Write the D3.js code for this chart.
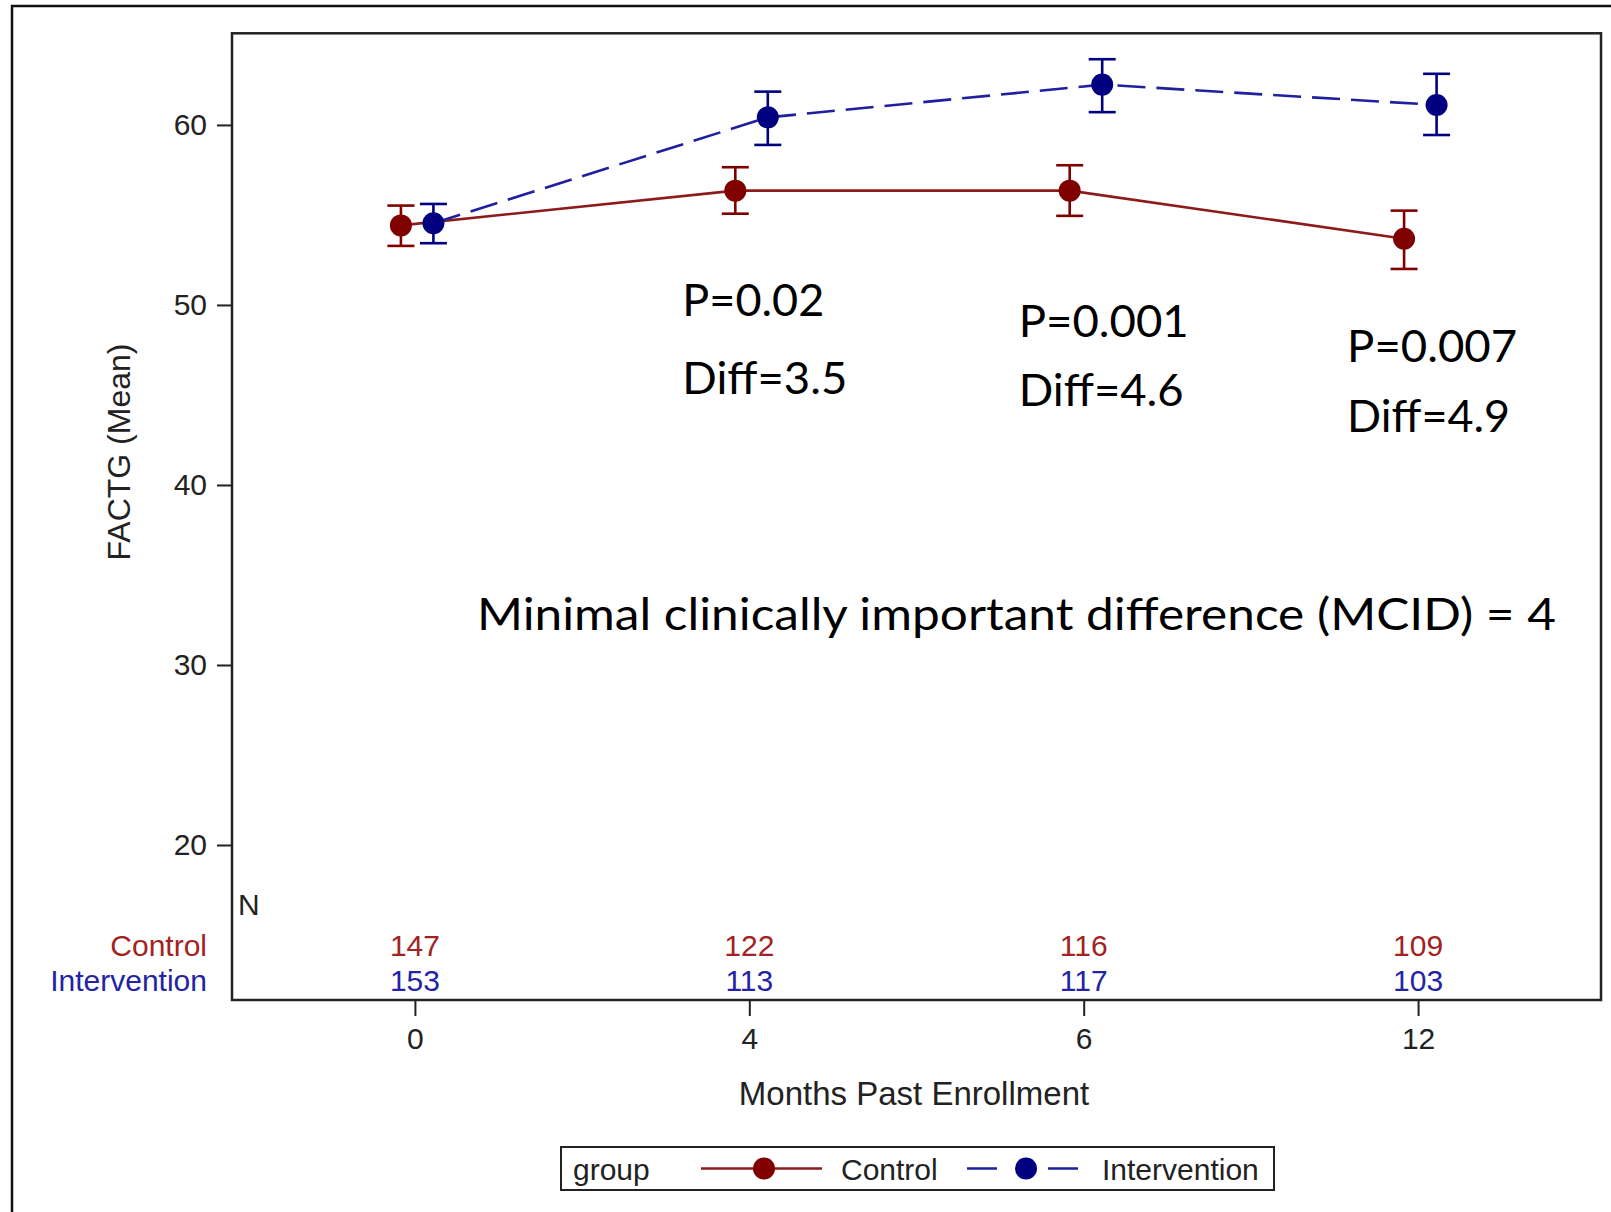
<!DOCTYPE html>
<html>
<head>
<meta charset="utf-8">
<script src="https://cdn.jsdelivr.net/npm/d3@7"></script>
<style>
  body { margin: 0; background: #fff; }
  svg { display: block; }
  .sas { font-family: "Liberation Sans", Arial, sans-serif; }
  .note { font-family: Lato, "Open Sans", sans-serif; fill: #000; }
</style>
</head>
<body>
<div id="chart"></div>
<script>
// values
var months = ["0", "4", "6", "12"];

var controlMean  = [54.42, 56.35, 56.35, 53.68];
var controlLow   = [53.28, 55.07, 54.95, 52.00];
var controlHigh  = [55.52, 57.65, 57.76, 55.24];

var interMean = [54.54, 60.42, 62.24, 61.11];
var interLow  = [53.43, 58.89, 60.71, 59.44];
var interHigh = [55.61, 61.85, 63.65, 62.84];

var controlN = [147, 122, 116, 109];
var interN   = [153, 113, 117, 103];

var yTicks = [20, 30, 40, 50, 60];

var noteMonths  = ["4", "6", "12"];
var pLabels     = ["P=0.02", "P=0.001", "P=0.007"];
var diffLabels  = ["Diff=3.5", "Diff=4.6", "Diff=4.9"];
var mcidLabel   = "Minimal clinically important difference (MCID) = 4";

// annotation placement (offset from tick in px, baseline in data units, width)
var noteLayout = [
  { dx: -67, pY: 49.38, dY: 45.05, pW: 142, dW: 165 },
  { dx: -65, pY: 48.24, dY: 44.40, pW: 170, dW: 165 },
  { dx: -71, pY: 46.85, dY: 42.96, pW: 170, dW: 163 }
];

var width = 1611, height = 1212;
var plotLeft = 232, plotRight = 1601, plotTop = 33.3, plotBottom = 1000;

var red = "#800000", redLine = "#8e1b1b", redText = "#a32222";
var blue = "#000080", blueLine = "#1f1fa0", blueText = "#2323a8";

var svg = d3.select("#chart").append("svg")
    .attr("width", width)
    .attr("height", height);

var x = d3.scalePoint()
    .domain(months)
    .range([plotLeft, plotRight])
    .padding(0.547);

var y = d3.scaleLinear()
    .domain([11.39, 65.09])
    .range([plotBottom, plotTop]);

// outer frame
svg.append("rect")
    .attr("x", 12).attr("y", 6)
    .attr("width", 1700).attr("height", 1300)
    .attr("fill", "none")
    .attr("stroke", "#111")
    .attr("stroke-width", 2.5);

// y axis
var yAxis = svg.append("g")
    .attr("transform", "translate(" + plotLeft + ",0)")
    .call(d3.axisLeft(y).tickValues(yTicks).tickSize(15).tickPadding(10));
yAxis.select(".domain").remove();
yAxis.selectAll("line").attr("stroke", "#222").attr("stroke-width", 2);
yAxis.selectAll("text")
    .attr("font-size", 30)
    .attr("font-family", "Liberation Sans, Arial, sans-serif")
    .attr("fill", "#222");

// x axis
var xAxis = svg.append("g")
    .attr("transform", "translate(0," + plotBottom + ")")
    .call(d3.axisBottom(x).tickSize(16));
xAxis.select(".domain").remove();
xAxis.selectAll("line").attr("stroke", "#222").attr("stroke-width", 2);
xAxis.selectAll("text")
    .attr("dy", null)
    .attr("y", 49)
    .attr("font-size", 30)
    .attr("font-family", "Liberation Sans, Arial, sans-serif")
    .attr("fill", "#222");

// plot frame
svg.append("rect")
    .attr("x", plotLeft).attr("y", plotTop)
    .attr("width", plotRight - plotLeft).attr("height", plotBottom - plotTop)
    .attr("fill", "none")
    .attr("stroke", "#222")
    .attr("stroke-width", 2.5);

// axis titles
svg.append("text")
    .attr("class", "sas")
    .attr("transform", "translate(130,452) rotate(-90)")
    .attr("text-anchor", "middle")
    .attr("font-size", 32)
    .attr("fill", "#222")
    .text("FACTG (Mean)");

svg.append("text")
    .attr("class", "sas")
    .attr("x", 914).attr("y", 1105)
    .attr("text-anchor", "middle")
    .attr("font-size", 33)
    .attr("fill", "#222")
    .text("Months Past Enrollment");

// series
var series = [
  { name: "Control", mean: controlMean, low: controlLow, high: controlHigh,
    off: -14, fill: red, line: redLine, dash: null },
  { name: "Intervention", mean: interMean, low: interLow, high: interHigh,
    off: 18.5, fill: blue, line: blueLine, dash: "28,11" }
];

var line = d3.line()
    .x(function(d) { return d.x; })
    .y(function(d) { return y(d.v); });

series.forEach(function(s) {
  var pts = months.map(function(m, i) {
    return { x: x(m) + s.off, v: s.mean[i], lo: s.low[i], hi: s.high[i] };
  });

  var g = svg.append("g");

  g.append("path")
      .datum(pts)
      .attr("d", line)
      .attr("fill", "none")
      .attr("stroke", s.line)
      .attr("stroke-width", 2.6)
      .attr("stroke-dasharray", s.dash);

  var eb = g.selectAll(".eb").data(pts).enter().append("g");
  eb.append("line")
      .attr("x1", function(d) { return d.x; })
      .attr("x2", function(d) { return d.x; })
      .attr("y1", function(d) { return y(d.lo); })
      .attr("y2", function(d) { return y(d.hi); });
  eb.append("line")
      .attr("x1", function(d) { return d.x - 13.5; })
      .attr("x2", function(d) { return d.x + 13.5; })
      .attr("y1", function(d) { return y(d.lo); })
      .attr("y2", function(d) { return y(d.lo); });
  eb.append("line")
      .attr("x1", function(d) { return d.x - 13.5; })
      .attr("x2", function(d) { return d.x + 13.5; })
      .attr("y1", function(d) { return y(d.hi); })
      .attr("y2", function(d) { return y(d.hi); });
  eb.selectAll("line")
      .attr("stroke", s.fill)
      .attr("stroke-width", 2.6);

  g.selectAll("circle").data(pts).enter().append("circle")
      .attr("cx", function(d) { return d.x; })
      .attr("cy", function(d) { return y(d.v); })
      .attr("r", 11)
      .attr("fill", s.fill);
});

// N table
svg.append("text")
    .attr("class", "sas")
    .attr("x", 238).attr("y", 915)
    .attr("font-size", 30)
    .attr("fill", "#222")
    .text("N");

var rows = [
  { label: "Control", n: controlN, color: redText, base: 956 },
  { label: "Intervention", n: interN, color: blueText, base: 991 }
];

rows.forEach(function(r) {
  svg.append("text")
      .attr("class", "sas")
      .attr("x", 207).attr("y", r.base)
      .attr("text-anchor", "end")
      .attr("font-size", 30)
      .attr("fill", r.color)
      .text(r.label);

  svg.selectAll(null).data(r.n).enter().append("text")
      .attr("class", "sas")
      .attr("x", function(d, i) { return x(months[i]); })
      .attr("y", r.base)
      .attr("text-anchor", "middle")
      .attr("font-size", 30)
      .attr("fill", r.color)
      .text(function(d) { return d; });
});

// annotations
noteMonths.forEach(function(m, i) {
  var L = noteLayout[i];
  svg.append("text")
      .attr("class", "note")
      .attr("x", x(m) + L.dx).attr("y", y(L.pY))
      .attr("font-size", 44)
      .attr("textLength", L.pW)
      .attr("lengthAdjust", "spacingAndGlyphs")
      .text(pLabels[i]);
  svg.append("text")
      .attr("class", "note")
      .attr("x", x(m) + L.dx).attr("y", y(L.dY))
      .attr("font-size", 44)
      .attr("textLength", L.dW)
      .attr("lengthAdjust", "spacingAndGlyphs")
      .text(diffLabels[i]);
});

svg.append("text")
    .attr("class", "note")
    .attr("x", 477).attr("y", 630)
    .attr("font-size", 44)
    .attr("textLength", 1079)
    .attr("lengthAdjust", "spacingAndGlyphs")
    .text(mcidLabel);

// legend
var leg = svg.append("g").attr("class", "sas");
leg.append("rect")
    .attr("x", 561).attr("y", 1147)
    .attr("width", 713).attr("height", 43)
    .attr("fill", "none")
    .attr("stroke", "#222")
    .attr("stroke-width", 2);
leg.append("text")
    .attr("x", 573).attr("y", 1180)
    .attr("font-size", 30).attr("fill", "#222")
    .text("group");

var legItems = [
  { s: series[0], x1: 701, x2: 822, cx: 764, tx: 841, dash: null },
  { s: series[1], x1: 967, x2: 1078, cx: 1026, tx: 1102, dash: "30,51" }
];
legItems.forEach(function(it) {
  leg.append("line")
      .attr("x1", it.x1).attr("x2", it.x2)
      .attr("y1", 1168.5).attr("y2", 1168.5)
      .attr("stroke", it.s.line)
      .attr("stroke-width", 2.6)
      .attr("stroke-dasharray", it.dash);
  leg.append("circle")
      .attr("cx", it.cx).attr("cy", 1168.5)
      .attr("r", 11)
      .attr("fill", it.s.fill);
  leg.append("text")
      .attr("x", it.tx).attr("y", 1180)
      .attr("font-size", 30).attr("fill", "#222")
      .text(it.s.name);
});
</script>
</body>
</html>
